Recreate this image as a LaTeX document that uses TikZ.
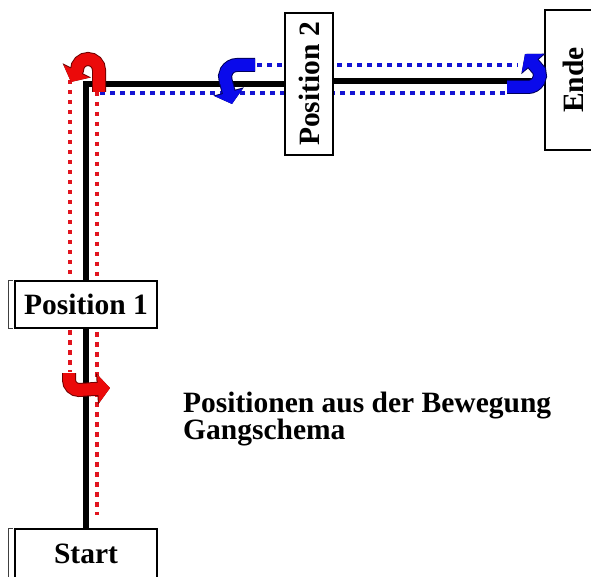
\documentclass[tikz,border=0pt]{standalone}
\usepackage{fontspec}
\setmainfont{Liberation Serif}
\usetikzlibrary{arrows.meta,backgrounds}
\definecolor{redturn}{RGB}{235,10,10}
\definecolor{redrim}{RGB}{110,0,0}
\definecolor{blueturn}{RGB}{10,10,235}
\definecolor{bluerim}{RGB}{0,0,90}
\definecolor{reddots}{RGB}{225,20,30}
\definecolor{bluedots}{RGB}{20,20,210}
\tikzset{
  box/.style={draw=black, line width=1.3pt, fill=white, inner sep=0pt},
  track/.style={black, line width=6pt},
  dots/.style={line width=4.5pt, dash pattern=on 4.5pt off 5.5pt},
  turn/.style={line width=12pt, -{Triangle[length=12pt,width=28pt]}},
  rim/.style={preaction={draw=#1, line width=14pt, -{Triangle[length=13pt,width=31pt]}}}
}
\begin{document}
\begin{tikzpicture}[x=1pt, y=1pt, font=\bfseries\fontsize{29.5}{27}\selectfont]
  \useasboundingbox (0,0) rectangle (591,576);
  % boxes
  \node[box, minimum width=142pt, minimum height=49pt] (start) at (86,22.5) {Start};
  \node[box, minimum width=142pt, minimum height=47pt] (pos1) at (86,271.5) {Position 1};
  \node[box, rotate=90, minimum width=142pt, minimum height=48pt] (pos2) at (309,492) {Position 2};
  \node[box, rotate=90, minimum width=140pt, minimum height=56pt] (ende) at (573,496) {Ende};
  \draw[darkgray, thin] ([xshift=-1pt]pos1.north west) -- ++(-5,0) |- ([xshift=-1pt]pos1.south west);
  \draw[darkgray, thin] ([xshift=-1pt]start.north west) -- ++(-5,0) -- ++(0,-60);
  \node[anchor=north west, align=left, inner sep=0pt] (title) at (183,184)
    {Positionen aus der Bewegung\\Gangschema};
  % lines behind the boxes
  \coordinate (turnE) at (533,495);
  \begin{scope}[on background layer]
    \draw[dots, reddots] (70,496) -- (70,204);
    \draw[dots, reddots] (97,484) -- (97,61);
    \draw[dots, bluedots] (100,483) -- (507,483);
    \draw[dots, bluedots] (257,511) -- (518,511);
    \draw[track] (start.north) |- (pos2.north);
    \draw[track] (pos2.south |- turnE) -- (turnE);
  \end{scope}
  % turning arrows
  \draw[turn, rim=redrim, redturn] (99,484) -- (99,506) arc[start angle=0, end angle=180, radius=11] -- (71,494);
  \draw[turn, rim=redrim, redturn] (69,203) -- (69,196) arc[start angle=180, end angle=270, radius=10] -- (110,188);
  \draw[turn, rim=bluerim, blueturn] (255,511) -- (237,511) arc[start angle=90, end angle=200, radius=12] -- (232,472);
  \draw[turn, rim=bluerim, blueturn] (507,489) -- (528,489) arc[start angle=-90, end angle=20, radius=12] -- (525,522);
\end{tikzpicture}
\end{document}
